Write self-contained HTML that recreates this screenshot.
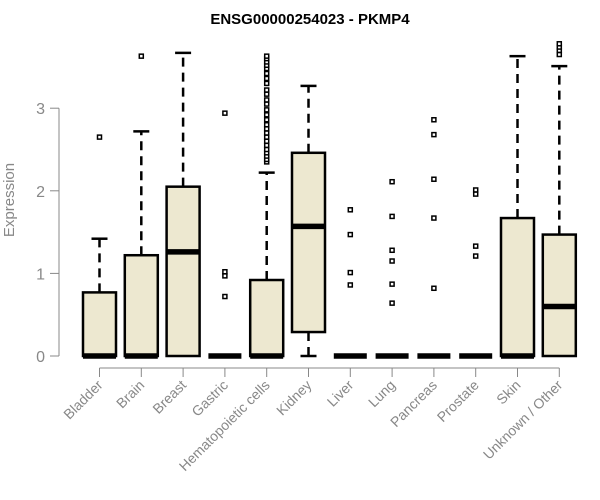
<!DOCTYPE html>
<html><head><meta charset="utf-8">
<style>
html,body{margin:0;padding:0;background:#fff;}
svg{display:block;font-family:"Liberation Sans",Arial,sans-serif;}
</style></head>
<body>
<svg id="chart" width="600" height="500" viewBox="0 0 600 500">
<text x="310" y="24" text-anchor="middle" font-size="15" font-weight="bold">ENSG00000254023 - PKMP4</text>
<text transform="translate(14,200) rotate(-90)" text-anchor="middle" font-size="15" fill="#888">Expression</text>
<g id="yaxis"></g>
<g id="xaxis"></g>
<g id="boxes"></g>
</svg>
<script>
const categories = ["Bladder","Brain","Breast","Gastric","Hematopoietic cells","Kidney","Liver","Lung","Pancreas","Prostate","Skin","Unknown / Other"];
const q1 = [0,0,0,0,0,0.29,0,0,0,0,0,0];
const medians = [0,0,1.26,0,0,1.57,0,0,0,0,0,0.6];
const q3 = [0.77,1.22,2.05,0,0.92,2.46,0,0,0,0,1.67,1.47];
const whiskerLow = [0,0,0,0,0,0,0,0,0,0,0,0];
const whiskerHigh = [1.42,2.72,3.67,0,2.22,3.27,0,0,0,0,3.63,3.51];
const outliers = [
 [2.65],
 [3.63],
 [],
 [2.94,1.02,0.97,0.72],
 [2.35,2.38,2.42,2.46,2.5,2.55,2.6,2.65,2.7,2.75,2.8,2.86,2.92,2.98,3.05,3.1,3.17,3.22,3.3,3.36,3.42,3.48,3.52,3.56,3.6,3.63],
 [],
 [1.77,1.47,1.01,0.86],
 [2.11,1.69,1.28,1.15,0.87,0.64],
 [2.86,2.68,2.14,1.67,0.82],
 [2.01,1.96,1.33,1.21],
 [],
 [3.65,3.7,3.74,3.78]
];
const yTicks = [0,1,2,3];

const NS="http://www.w3.org/2000/svg";
const y0=356, pxPerUnit=82.6;
function yScale(v){return y0 - v*pxPerUnit;}
function xScale(i){return 99.5 + i*41.8;}
function mk(tag,attrs,parent){const e=document.createElementNS(NS,tag);for(const k in attrs)e.setAttribute(k,attrs[k]);parent.appendChild(e);return e;}

const ya=document.getElementById('yaxis');
mk('line',{x1:59,x2:59,y1:yScale(0),y2:yScale(3),stroke:'#888','stroke-width':1},ya);
yTicks.forEach(t=>{
  const l=mk('line',{x1:50,x2:59,y1:yScale(t),y2:yScale(t),stroke:'#888'},ya);
  
  
  const tx=mk('text',{x:45,y:yScale(t)+6,'text-anchor':'end','font-size':16,fill:'#888'},ya);
  tx.textContent=t;
  
  
});

const xa=document.getElementById('xaxis');
mk('line',{x1:xScale(0),x2:xScale(categories.length-1),y1:368,y2:368,stroke:'#888'},xa);
categories.forEach((c,i)=>{
  const x=xScale(i);
  const l=mk('line',{x1:x,x2:x,y1:368,y2:377,stroke:'#888'},xa);
  
  
  const tx=mk('text',{transform:`translate(${x+4},386) rotate(-45)`,'text-anchor':'end','font-size':14,fill:'#888'},xa);
  tx.textContent=c;
  
  
});

const bx=document.getElementById('boxes');
categories.forEach((c,i)=>{
  const x=xScale(i), hw=16.5;
  const g=mk('g',{},bx);
  
  
  if(whiskerHigh[i]>q3[i]){
    mk('line',{x1:x,x2:x,y1:yScale(q3[i]),y2:yScale(whiskerHigh[i]),stroke:'#000','stroke-width':2.5,'stroke-dasharray':'9,6'},g);
    mk('line',{x1:x-8,x2:x+8,y1:yScale(whiskerHigh[i]),y2:yScale(whiskerHigh[i]),stroke:'#000','stroke-width':2.5},g);
  }
  if(q1[i]>whiskerLow[i]){
    mk('line',{x1:x,x2:x,y1:yScale(whiskerLow[i]),y2:yScale(q1[i]),stroke:'#000','stroke-width':2.5,'stroke-dasharray':'9,6'},g);
    mk('line',{x1:x-8,x2:x+8,y1:yScale(whiskerLow[i]),y2:yScale(whiskerLow[i]),stroke:'#000','stroke-width':2.5},g);
  }
  if(q3[i]>q1[i]){
    mk('rect',{x:x-hw,y:yScale(q3[i]),width:2*hw,height:yScale(q1[i])-yScale(q3[i]),fill:'#ede8d0',stroke:'#000','stroke-width':2.5},g);
  }
  mk('line',{x1:x-hw,x2:x+hw,y1:yScale(medians[i]),y2:yScale(medians[i]),stroke:'#000','stroke-width':5.5},g);
  outliers[i].forEach(v=>{
    const r=mk('rect',{x:x-2,y:yScale(v)-2,width:4,height:4,fill:'#fff',stroke:'#000','stroke-width':1.5},g);
    
    
  });
});
</script>
</body></html>
